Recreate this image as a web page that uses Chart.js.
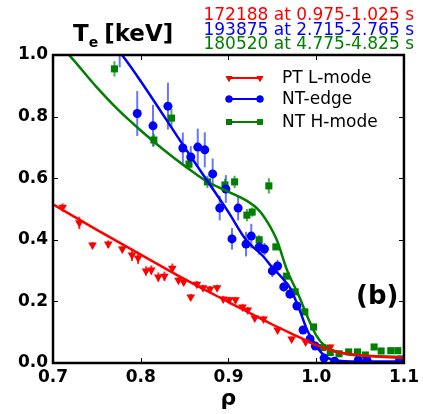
<!DOCTYPE html>
<html>
<head>
<meta charset="utf-8">
<script src="https://cdn.jsdelivr.net/npm/chart.js@4/dist/chart.umd.min.js"></script>
<style>
    html, body { margin: 0; padding: 0; background: #fff; }
    #wrap { width: 423px; height: 414px; }
</style>
</head>
<body>
<div id="wrap"><canvas id="teChart" width="423" height="414"></canvas></div>
<script>
// PT L-mode (172188)
const rhoL = [0.711, 0.730, 0.745, 0.763, 0.779, 0.790, 0.797, 0.806, 0.812, 0.820, 0.827, 0.836, 0.843, 0.849, 0.857, 0.864, 0.871, 0.879, 0.887, 0.894, 0.901, 0.908, 0.916, 0.922, 0.930, 0.940, 0.956, 0.972, 0.988, 1.016];
const teL = [0.506, 0.455, 0.383, 0.386, 0.370, 0.351, 0.341, 0.299, 0.302, 0.279, 0.282, 0.308, 0.269, 0.263, 0.214, 0.256, 0.244, 0.240, 0.244, 0.208, 0.205, 0.205, 0.182, 0.172, 0.146, 0.143, 0.107, 0.078, 0.068, 0.052];
const errL = [0.012, 0.02, 0.01, 0.012, 0.01, 0.02, 0.02, 0.015, 0.015, 0.015, 0.015, 0.015, 0.01, 0.01, 0.01, 0.01, 0.01, 0.01, 0.01, 0.01, 0.01, 0.01, 0.01, 0.01, 0.01, 0.01, 0.008, 0.008, 0.008, 0.008];
const fitRhoL = [0.70, 0.75, 0.80, 0.85, 0.90, 0.95, 0.98, 1.00, 1.02, 1.05, 1.10];
const fitTeL = [0.515, 0.432, 0.352, 0.272, 0.198, 0.125, 0.085, 0.058, 0.038, 0.025, 0.016];

// NT-edge (193875)
const rhoE = [0.776, 0.796, 0.814, 0.831, 0.848, 0.857, 0.865, 0.873, 0.882, 0.890, 0.897, 0.904, 0.911, 0.920, 0.926, 0.935, 0.941, 0.950, 0.956, 0.963, 0.970, 0.978, 0.985, 0.993, 0.999, 1.009, 1.021, 1.048, 1.058, 1.095];
const teE = [1.04, 0.81, 0.77, 0.834, 0.698, 0.669, 0.701, 0.692, 0.614, 0.503, 0.565, 0.403, 0.503, 0.386, 0.412, 0.377, 0.370, 0.299, 0.315, 0.247, 0.224, 0.185, 0.107, 0.078, 0.055, 0.016, 0.006, 0.010, 0.008, 0.010];
const errE = [0.08, 0.073, 0.068, 0.076, 0.05, 0.035, 0.06, 0.057, 0.05, 0.04, 0.045, 0.035, 0.04, 0.04, 0.04, 0.025, 0.02, 0.02, 0.02, 0.015, 0.015, 0.01, 0.01, 0.008, 0.005, 0.004, 0.003, 0.003, 0.003, 0.003];
const fitRhoE = [0.77, 0.78, 0.80, 0.85, 0.875, 0.90, 0.92, 0.94, 0.95, 0.96, 0.97, 0.98, 0.99, 1.00, 1.01, 1.02, 1.05, 1.10];
const fitTeE = [1.03, 0.995, 0.915, 0.70, 0.595, 0.49, 0.40, 0.345, 0.31, 0.28, 0.245, 0.18, 0.105, 0.055, 0.022, 0.01, 0.005, 0.005];

// NT H-mode (180520)
const rhoH = [0.770, 0.815, 0.835, 0.855, 0.876, 0.896, 0.907, 0.921, 0.927, 0.935, 0.946, 0.954, 0.966, 0.976, 0.987, 0.997, 1.007, 1.016, 1.026, 1.037, 1.047, 1.056, 1.066, 1.074, 1.085, 1.093];
const teH = [0.955, 0.724, 0.795, 0.646, 0.588, 0.578, 0.588, 0.480, 0.490, 0.400, 0.575, 0.377, 0.282, 0.231, 0.166, 0.117, 0.050, 0.034, 0.030, 0.036, 0.036, 0.026, 0.052, 0.039, 0.040, 0.040];
const errH = [0.025, 0.02, 0.03, 0.02, 0.02, 0.02, 0.02, 0.02, 0.015, 0.015, 0.025, 0.01, 0.01, 0.01, 0.01, 0.01, 0.005, 0.005, 0.005, 0.005, 0.005, 0.005, 0.005, 0.005, 0.005, 0.005];
const fitRhoH = [0.715, 0.72, 0.75, 0.775, 0.80, 0.825, 0.85, 0.875, 0.90, 0.92, 0.935, 0.945, 0.955, 0.967, 0.98, 0.99, 1.00, 1.01, 1.02, 1.04, 1.07, 1.10];
const fitTeH = [1.01, 0.995, 0.895, 0.82, 0.755, 0.695, 0.64, 0.59, 0.556, 0.528, 0.495, 0.455, 0.40, 0.30, 0.22, 0.15, 0.09, 0.055, 0.04, 0.027, 0.022, 0.02];

const xTicks = [0.7, 0.8, 0.9, 1.0, 1.1];
const yTicks = [0.0, 0.2, 0.4, 0.6, 0.8, 1.0];

const seriesNames = ["PT L-mode", "NT-edge", "NT H-mode"];
const shotLabels = ["172188 at 0.975-1.025 s", "193875 at 2.715-2.765 s", "180520 at 4.775-4.825 s"];

const RED = "#ff0000";
const BLUE = "#0000ff";
const GREEN = "#007f00";

function toPoints(xs, ys) {
    return xs.map((x, i) => ({ x: x, y: ys[i] }));
}

const errorSets = [
    { xs: rhoL, ys: teL, es: errL, color: "rgba(255,0,0,0.8)" },
    { xs: rhoE, ys: teE, es: errE, color: "rgba(40,60,255,0.7)" },
    { xs: rhoH, ys: teH, es: errH, color: "rgba(0,140,0,0.7)" }
];

const errorBars = {
    id: "errorBars",
    beforeDatasetsDraw(chart) {
        const { ctx, chartArea, scales } = chart;
        ctx.save();
        ctx.beginPath();
        ctx.rect(chartArea.left, chartArea.top, chartArea.right - chartArea.left, chartArea.bottom - chartArea.top);
        ctx.clip();
        ctx.lineWidth = 2;
        errorSets.forEach(set => {
            ctx.strokeStyle = set.color;
            set.xs.forEach((x, i) => {
                const px = scales.x.getPixelForValue(x);
                ctx.beginPath();
                ctx.moveTo(px, scales.y.getPixelForValue(set.ys[i] - set.es[i]));
                ctx.lineTo(px, scales.y.getPixelForValue(set.ys[i] + set.es[i]));
                ctx.stroke();
            });
        });
        ctx.restore();
    }
};

const frameAndText = {
    id: "frameAndText",
    afterDraw(chart) {
        const { ctx, chartArea, scales } = chart;
        const a = chartArea;
        ctx.save();

        // inward ticks on all four sides
        ctx.strokeStyle = "#000";
        ctx.lineWidth = 1;
        const tl = 5;
        xTicks.forEach(v => {
            const px = Math.round(scales.x.getPixelForValue(v)) + 0.5;
            ctx.beginPath();
            ctx.moveTo(px, a.bottom); ctx.lineTo(px, a.bottom - tl);
            ctx.moveTo(px, a.top); ctx.lineTo(px, a.top + tl);
            ctx.stroke();
        });
        yTicks.forEach(v => {
            const py = Math.round(scales.y.getPixelForValue(v)) + 0.5;
            ctx.beginPath();
            ctx.moveTo(a.left, py); ctx.lineTo(a.left + tl, py);
            ctx.moveTo(a.right, py); ctx.lineTo(a.right - tl, py);
            ctx.stroke();
        });

        // frame
        ctx.lineWidth = 2.5;
        ctx.strokeRect(a.left, a.top, a.right - a.left, a.bottom - a.top);

        // y label T_e [keV]
        ctx.fillStyle = "#000";
        ctx.textBaseline = "alphabetic";
        ctx.textAlign = "left";
        ctx.font = "bold 23px 'DejaVu Sans'";
        let x = 73;
        ctx.fillText("T", x, 41);
        x += ctx.measureText("T").width;
        ctx.font = "bold 14px 'DejaVu Sans'";
        ctx.fillText("e", x, 47);
        x += ctx.measureText("e").width + 6;
        ctx.font = "bold 23px 'DejaVu Sans'";
        ctx.fillText("[keV]", x, 41);

        // shot labels, top right
        ctx.textAlign = "right";
        ctx.font = "17px 'DejaVu Sans'";
        const shotColors = [RED, BLUE, GREEN];
        shotLabels.forEach((t, i) => {
            ctx.fillStyle = shotColors[i];
            ctx.fillText(t, 414, 20 + i * 14.7);
        });

        // legend
        const rowY = [78, 99, 122];
        const markers = ["triangle", "circle", "rect"];
        ctx.textAlign = "left";
        ctx.textBaseline = "middle";
        ctx.font = "17px 'DejaVu Sans'";
        seriesNames.forEach((name, i) => {
            const c = shotColors[i];
            ctx.strokeStyle = c;
            ctx.lineWidth = 2;
            ctx.beginPath();
            ctx.moveTo(229, rowY[i]); ctx.lineTo(260, rowY[i]);
            ctx.stroke();
            [229, 260].forEach(mx => {
                Chart.helpers.drawPoint(ctx, {
                    pointStyle: markers[i],
                    radius: markers[i] === "circle" ? 3.5 : 4,
                    rotation: markers[i] === "triangle" ? 180 : 0,
                    borderWidth: 0
                }, mx, rowY[i]);
                ctx.fillStyle = c;
                ctx.fill();
            });
            ctx.fillStyle = "#000";
            ctx.fillText(name, 282, rowY[i] + 1);
        });

        // panel tag
        ctx.textBaseline = "alphabetic";
        ctx.font = "bold 26px 'DejaVu Sans'";
        ctx.fillText("(b)", 356, 304);

        ctx.restore();
    }
};

function createChart() {
    const cv = document.getElementById("teChart");

    new Chart(cv, {
        type: "scatter",
        data: {
            datasets: [
                {
                    label: seriesNames[0] + " fit",
                    data: toPoints(fitRhoL, fitTeL),
                    showLine: true,
                    borderColor: RED,
                    borderWidth: 2.5,
                    pointRadius: 0,
                    cubicInterpolationMode: "monotone"
                },
                {
                    label: seriesNames[1] + " fit",
                    data: toPoints(fitRhoE, fitTeE),
                    showLine: true,
                    borderColor: BLUE,
                    borderWidth: 2.5,
                    pointRadius: 0,
                    cubicInterpolationMode: "monotone"
                },
                {
                    label: seriesNames[2] + " fit",
                    data: toPoints(fitRhoH, fitTeH),
                    showLine: true,
                    borderColor: GREEN,
                    borderWidth: 2.5,
                    pointRadius: 0,
                    cubicInterpolationMode: "monotone"
                },
                {
                    label: seriesNames[0],
                    data: toPoints(rhoL, teL),
                    pointStyle: "triangle",
                    rotation: 180,
                    pointRadius: 5,
                    backgroundColor: RED,
                    borderWidth: 0
                },
                {
                    label: seriesNames[1],
                    data: toPoints(rhoE, teE),
                    pointStyle: "circle",
                    pointRadius: 4.5,
                    backgroundColor: BLUE,
                    borderWidth: 0
                },
                {
                    label: seriesNames[2],
                    data: toPoints(rhoH, teH),
                    pointStyle: "rect",
                    pointRadius: 5,
                    backgroundColor: GREEN,
                    borderWidth: 0
                }
            ]
        },
        options: {
            responsive: false,
            animation: false,
            events: [],
            layout: { padding: { left: 0, right: 14, top: 55, bottom: 0 } },
            scales: {
                x: {
                    type: "linear",
                    min: 0.7,
                    max: 1.1,
                    afterBuildTicks: s => { s.ticks = xTicks.map(v => ({ value: v })); },
                    afterFit: s => { s.height = 51; },
                    grid: { display: false, drawTicks: false },
                    border: { display: false },
                    ticks: {
                        color: "#000",
                        padding: 4,
                        font: { family: "DejaVu Sans", size: 17, weight: "bold" },
                        callback: v => Number(v).toFixed(1)
                    },
                    title: {
                        display: true,
                        text: "ρ",
                        color: "#000",
                        padding: { top: 0, bottom: 2 },
                        font: { family: "DejaVu Sans", size: 22, weight: "bold" }
                    }
                },
                y: {
                    type: "linear",
                    min: 0,
                    max: 1,
                    afterBuildTicks: s => { s.ticks = yTicks.map(v => ({ value: v })); },
                    afterFit: s => { s.width = 53; },
                    grid: { display: false, drawTicks: false },
                    border: { display: false },
                    ticks: {
                        color: "#000",
                        padding: 5,
                        font: { family: "DejaVu Sans", size: 17, weight: "bold" },
                        callback: v => Number(v).toFixed(1)
                    }
                }
            },
            plugins: {
                legend: { display: false },
                tooltip: { enabled: false }
            }
        },
        plugins: [errorBars, frameAndText]
    });
}

createChart();
</script>
</body>
</html>
